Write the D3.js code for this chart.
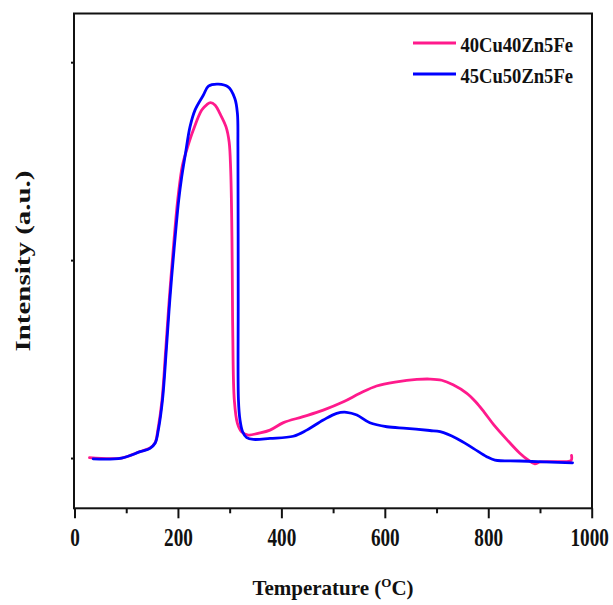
<!DOCTYPE html>
<html>
<head>
<meta charset="utf-8">
<script src="https://cdn.jsdelivr.net/npm/d3@7"></script>
<style>
  html, body { margin: 0; padding: 0; background: #fff; }
  svg { display: block; }
  text { font-family: "Liberation Serif", "Times New Roman", serif; font-weight: bold; fill: #111; }
</style>
</head>
<body>
<svg id="chart" width="613" height="605"></svg>
<script>
// H2-TPR profiles: temperature (°C) vs. intensity (a.u.)
const seriesNames = ["40Cu40Zn5Fe", "45Cu50Zn5Fe"];
const seriesColors = ["#ff1a8c", "#0000ff"];

const tempA = [29, 91, 127, 146, 156, 161.1, 169.2, 176.3, 183.1, 190.8, 199.5, 208.8, 216.9, 229.7, 246, 256, 263, 272, 281, 293, 299, 302, 304, 305, 306, 309, 315, 323, 336, 355, 378, 404, 442, 481, 520, 552, 584, 623, 662, 687, 710, 732, 758, 776, 792, 810, 836, 861, 877, 890, 900, 932, 960, 961];
const intA  = [0.002, 0.000, 0.033, 0.051, 0.078, 0.141, 0.293, 0.545, 0.798, 1.051, 1.303, 1.480, 1.556, 1.657, 1.758, 1.786, 1.796, 1.783, 1.741, 1.673, 1.597, 1.455, 1.202, 0.949, 0.631, 0.293, 0.175, 0.133, 0.116, 0.125, 0.141, 0.179, 0.209, 0.242, 0.284, 0.327, 0.364, 0.385, 0.397, 0.399, 0.393, 0.370, 0.328, 0.283, 0.232, 0.170, 0.093, 0.024, -0.010, -0.030, -0.020, -0.018, -0.013, 0.013];

const tempB = [36, 91, 127, 146, 156, 162, 170.1, 177.5, 184.3, 192.4, 201.5, 207.3, 214.6, 223.3, 233, 249, 259, 278, 297, 310, 315, 316, 316.5, 317, 320, 325, 333, 346, 378, 423, 449, 481, 507, 526, 546, 571, 604, 642, 687, 707, 739, 771, 797, 813, 861, 963];
const intB  = [-0.004, 0.000, 0.032, 0.049, 0.076, 0.141, 0.293, 0.545, 0.798, 1.051, 1.303, 1.421, 1.539, 1.673, 1.758, 1.833, 1.879, 1.889, 1.875, 1.817, 1.741, 1.572, 0.798, 0.293, 0.192, 0.133, 0.103, 0.094, 0.099, 0.110, 0.141, 0.192, 0.226, 0.231, 0.217, 0.178, 0.158, 0.150, 0.139, 0.133, 0.099, 0.049, 0.007, -0.010, -0.015, -0.024];

const xMajorTicks = [0, 200, 400, 600, 800, 1000];
const xMinorTicks = [100, 300, 500, 700, 900];
const yTicks = [0, 1, 2];

const svg = d3.select("#chart");
const plotLeft = 74, plotRight = 592, plotTop = 13.5, plotBottom = 508.3;

const x = d3.scaleLinear().domain([0, 1000]).range([74.5, 591.7]);
const y = d3.scaleLinear().domain([-0.254, 2.246]).range([plotBottom, plotTop]);

// curves: pink first so the blue trace sits on top where they overlap
const seriesData = [d3.zip(tempA, intA), d3.zip(tempB, intB)];
const lineCurve = d3.line().x(d => x(d[0])).y(d => y(d[1])).curve(d3.curveCatmullRom.alpha(0.5));

seriesData.forEach((pts, i) => {
  svg.append("path")
    .attr("d", lineCurve(pts))
    .attr("fill", "none")
    .attr("stroke", seriesColors[i])
    .attr("stroke-width", 2.8)
    .attr("stroke-linejoin", "round")
    .attr("stroke-linecap", "round");
});

// frame
svg.append("rect")
  .attr("x", plotLeft).attr("y", plotTop)
  .attr("width", plotRight - plotLeft).attr("height", plotBottom - plotTop)
  .attr("fill", "none").attr("stroke", "#111").attr("stroke-width", 2);

// bottom axis: major ticks with labels (tall, narrow digits), minor ticks without
const xAxis = d3.axisBottom(x).tickValues(xMajorTicks).tickSize(10).tickFormat(d3.format("d"));
const gx = svg.append("g").attr("transform", `translate(0,${plotBottom})`).call(xAxis);
gx.select(".domain").remove();
gx.selectAll(".tick line").attr("stroke", "#111").attr("stroke-width", 2);
gx.selectAll(".tick text")
  .attr("y", 0).attr("dy", null)
  .attr("transform", d => `translate(${d === 1000 ? -2.5 : 0},37.7) scale(1,1.3)`)
  .style("font-size", "19.2px")
  .style("font-family", "'Liberation Serif', serif")
  .style("font-weight", "bold")
  .attr("fill", "#111");

const xMinor = d3.axisBottom(x).tickValues(xMinorTicks).tickSize(5).tickFormat("");
const gxm = svg.append("g").attr("transform", `translate(0,${plotBottom})`).call(xMinor);
gxm.select(".domain").remove();
gxm.selectAll(".tick line").attr("stroke", "#111").attr("stroke-width", 2);

// left axis: unlabeled ticks
const yAxis = d3.axisLeft(y).tickValues(yTicks).tickSize(3).tickFormat("");
const gy = svg.append("g").attr("transform", `translate(${plotLeft},0)`).call(yAxis);
gy.select(".domain").remove();
gy.selectAll(".tick line").attr("stroke", "#111").attr("stroke-width", 2);

// axis titles
const xt = svg.append("text")
  .attr("x", 333).attr("y", 595)
  .attr("text-anchor", "middle")
  .style("font-size", "21px");
xt.append("tspan").text("Temperature (");
xt.append("tspan").attr("dy", -8).style("font-size", "13px").text("O");
xt.append("tspan").attr("dy", 8).text("C)");

svg.append("text")
  .attr("transform", "translate(30,261) rotate(-90)")
  .attr("text-anchor", "middle")
  .style("font-size", "21px")
  .attr("textLength", 181)
  .attr("lengthAdjust", "spacingAndGlyphs")
  .text("Intensity (a.u.)");

// legend
const legendY = [43, 74];
seriesNames.forEach((name, i) => {
  svg.append("line")
    .attr("x1", 413).attr("x2", 456)
    .attr("y1", legendY[i]).attr("y2", legendY[i])
    .attr("stroke", seriesColors[i]).attr("stroke-width", 3);
  svg.append("text")
    .attr("x", 460.5).attr("y", legendY[i] + 8.5)
    .style("font-size", "22px")
    .attr("textLength", 112.5)
    .attr("lengthAdjust", "spacingAndGlyphs")
    .text(name);
});
</script>
</body>
</html>
